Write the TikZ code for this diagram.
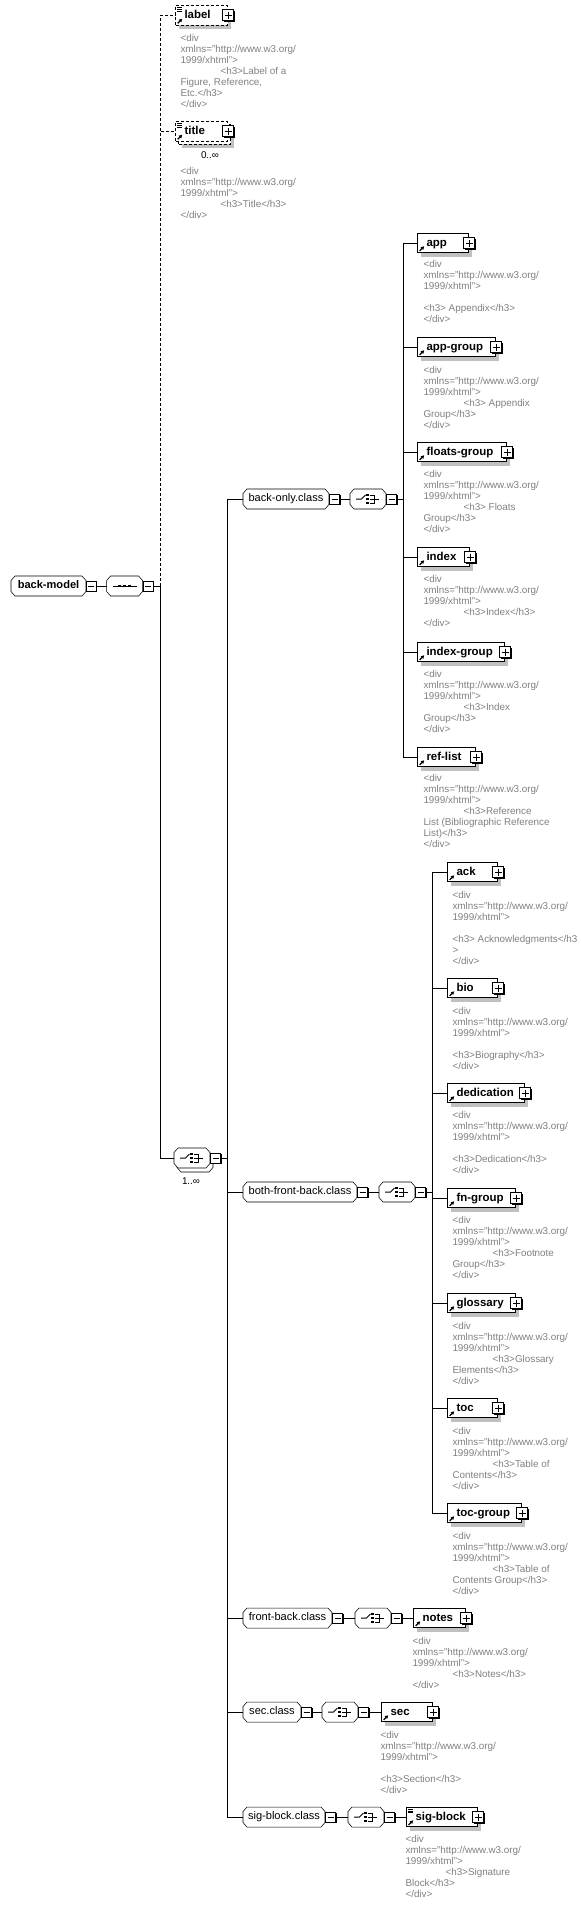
\documentclass[tikz,border=0pt]{standalone}
\usepackage{fontspec}
\setmainfont{Liberation Sans}
\usetikzlibrary{positioning, arrows.meta, shadows, backgrounds}

\definecolor{DocGray}{RGB}{128,128,128}
\definecolor{ShadowGray}{RGB}{192,192,192}

\newcommand{\elemfont}{\bfseries\fontsize{8.6}{10}\selectfont\exhyphenpenalty=10000 }
\newcommand{\clsfont}{\fontsize{8.3}{10}\selectfont}
\newcommand{\docfont}{\fontsize{7.4}{8.25}\selectfont}
\newcommand{\ind}{\hspace*{30pt}}
\newcommand{\divhead}{<div\\xmlns="http://www.w3.org/\\1999/xhtml">}

% small icons inside the boxes
\newcommand{\refarrow}{%
  \draw[solid, line width=0.9pt, -{Triangle[length=2.4pt, width=2.6pt]}]
    ([xshift=1.6pt, yshift=1.4pt]path picture bounding box.south west) -- ++(3.4pt,3.4pt);}
\newcommand{\docmark}{%
  \foreach \k in {0,1,2}
    \draw[solid, line width=0.5pt] ([xshift=0.8pt, yshift=-1.3pt-\k*1.4pt]path picture bounding box.north west) -- ++(4.2pt,0);}
\newcommand{\seqicon}[1]{%
  \begin{scope}[shift={(#1.center)}]
    \draw (-12,0) -- (12,0);
    \foreach \d in {-5,0,5}
      \fill (\d-1.4,-1.4) rectangle (\d+1.4,1.4);
  \end{scope}}
\newcommand{\choiceicon}[1]{%
  \begin{scope}[shift={(#1.center)}]
    \draw (-12,0) -- (-6.5,0) -- (-2.5,-4);
    \foreach \d in {-4,0,4}
      \fill (-1.6,\d-1.3) rectangle (1,\d+1.3);
    \draw (2.2,-4) -- (6,-4) -- (6,4) -- (2.2,4) (2.2,0) -- (11,0);
  \end{scope}}
% octagon outline round a named node
\newcommand{\octa}[1]{([yshift=4.1pt]#1.west) -- ([xshift=3pt]#1.north west) -- ([xshift=-3pt]#1.north east)
  -- ([yshift=4.1pt]#1.east) -- ([yshift=-4.1pt]#1.east) -- ([xshift=-3pt]#1.south east)
  -- ([xshift=3pt]#1.south west) -- ([yshift=-4.1pt]#1.west) -- cycle}

\tikzset{
  boxshadow/.style={drop shadow={shadow xshift=2.4pt, shadow yshift=-3pt, fill=ShadowGray, opacity=1}},
  optline/.style={dash pattern=on 2.25pt off 1.5pt},
  elembase/.style={draw, fill=white, rectangle, anchor=west, minimum height=14.6pt,
    inner ysep=0pt, inner xsep=6.75pt, text width={#1*0.75pt-13.5pt}, align=left,
    text height=6.4pt, text depth=1.8pt, font=\elemfont, path picture={\refarrow}},
  elem/.style={elembase=#1, boxshadow},
  docelem/.style={elem=#1, path picture={\refarrow\docmark}},
  optelem/.style={docelem=#1, optline},
  repbox/.style={draw, fill=white, rectangle, anchor=west, minimum height=14.6pt, inner sep=0pt, boxshadow},
  cls/.style={rectangle, anchor=west, minimum width={#1*0.75pt}, minimum height=14.25pt,
    inner sep=0pt, text height=6.2pt, text depth=1.8pt, font=\clsfont},
  comp/.style={rectangle, anchor=west, minimum width=26.25pt, minimum height=14.25pt, inner sep=0pt},
  minusbox/.style={draw, fill=white, rectangle, minimum size=7.5pt, inner sep=0pt,
    drop shadow={shadow xshift=0.9pt, shadow yshift=-0.9pt, fill=black, opacity=1},
    path picture={\draw ([xshift=1.5pt]path picture bounding box.west) -- ([xshift=-1.5pt]path picture bounding box.east);}},
  plusbox/.style={draw, fill=white, rectangle, minimum size=8.25pt, inner sep=0pt,
    drop shadow={shadow xshift=0.9pt, shadow yshift=-0.9pt, fill=black, opacity=1},
    path picture={\draw ([xshift=1.5pt]path picture bounding box.west) -- ([xshift=-1.5pt]path picture bounding box.east)
      ([yshift=-1.5pt]path picture bounding box.north) -- ([yshift=1.5pt]path picture bounding box.south);}},
  doc/.style={anchor=north west, inner sep=0pt, align=left, font=\docfont, text=DocGray},
  card/.style={inner sep=0pt, font=\docfont}
}

\begin{document}
\begin{tikzpicture}[x=0.75pt, y=-0.75pt, line width=0.75pt]
\useasboundingbox (0,0) rectangle (581,1905);

% root with its sequence
\node[cls=74, font=\clsfont\bfseries] (bm) at (11,586) {back-model};
\node[minusbox, right=-0.3pt of bm] (bm-m) {};
\node[comp, right=7.5pt of bm-m] (seq) {};
\node[minusbox, right=0pt of seq] (seq-m) {};
\coordinate (bus0) at (160,586);
\draw (bm-m.east) -- (seq.west);
\draw (seq-m.east) -- (bus0);

% optional label and title
\node[optelem=52] (label) at (175,15.5) {label};
\node[plusbox] (label-p) at (label.east) {};
\node[repbox, optline, minimum width=39pt] (title-rep) at (178,134.5) {};
\node[elembase=52, path picture={\refarrow\docmark}, optline] (title) at (175,131.5) {title};
\node[plusbox] (title-p) at (title.east) {};
\node[card] (title-n) at (210,155) {0..∞};
\draw[optline] (bus0) |- (label.west);
\draw[optline] (bus0) |- (title.west);

\node[doc] (label-doc) at (180,33.4) {\divhead\\\ind<h3>Label of a\\Figure, Reference,\\Etc.</h3>\\</div>};
\node[doc] (title-doc) at (180,166.4) {\divhead\\\ind<h3>Title</h3>\\</div>};

% repeated choice
\node[comp] (ch-rep) at (177,1162) {};
\node[comp] (ch) at (174,1158) {};
\node[minusbox, right=0pt of ch] (ch-m) {};
\node[card] (ch-n) at (191,1181) {1..∞};
\draw (bus0) |- (ch.west);
\coordinate (bus1) at (227,1158);
\draw (ch-m.east) -- (bus1);

% back-only.class
\node[cls=85] (bo) at (243,499) {back-only.class};
\node[minusbox, right=0pt of bo] (bo-m) {};
\node[comp, right=7.5pt of bo-m] (bo-c) {};
\node[minusbox, right=0pt of bo-c] (bo-cm) {};
\coordinate (bus2) at (403,499);
\draw (bo-m.east) -- (bo-c.west);
\draw (bo-cm.east) -- (bus2);

\foreach \n/\w/\y in {app/51/243, app-group/78/347, floats-group/89/452,
                      index/52/557, index-group/87/652, ref-list/58/757} {
  \node[elem=\w] (\n) at (417,\y) {\n};
  \node[plusbox] (\n-p) at (\n.east) {};
  \draw (bus2) |- (\n.west);
}
\node[doc] (app-doc) at (423,259.4) {\divhead\\[8.25pt]<h3> Appendix</h3>\\</div>};
\node[doc] (app-group-doc) at (423,365.4) {\divhead\\\ind<h3> Appendix\\Group</h3>\\</div>};
\node[doc] (floats-group-doc) at (423,469.4) {\divhead\\\ind<h3> Floats\\Group</h3>\\</div>};
\node[doc] (index-doc) at (423,574.4) {\divhead\\\ind<h3>Index</h3>\\</div>};
\node[doc] (index-group-doc) at (423,669.4) {\divhead\\\ind<h3>Index\\Group</h3>\\</div>};
\node[doc] (ref-list-doc) at (423,773.4) {\divhead\\\ind<h3>Reference\\List (Bibliographic Reference\\List)</h3>\\</div>};

% both-front-back.class
\node[cls=113] (bfb) at (243,1192) {both-front-back.class};
\node[minusbox, right=0pt of bfb] (bfb-m) {};
\node[comp, right=8.25pt of bfb-m] (bfb-c) {};
\node[minusbox, right=0pt of bfb-c] (bfb-cm) {};
\coordinate (bus3) at (432,1192);
\draw (bfb-m.east) -- (bfb-c.west);
\draw (bfb-cm.east) -- (bus3);

\foreach \n/\w/\y in {ack/50/872, bio/50/988, dedication/77/1093, fn-group/68/1198,
                      glossary/68/1303, toc/50/1408, toc-group/74/1513} {
  \node[elem=\w] (\n) at (447,\y) {\n};
  \node[plusbox] (\n-p) at (\n.east) {};
  \draw (bus3) |- (\n.west);
}
\node[doc] (ack-doc) at (452,890.4) {\divhead\\[8.25pt]<h3> Acknowledgments</h3\\>\\</div>};
\node[doc] (bio-doc) at (452,1006.4) {\divhead\\[8.25pt]<h3>Biography</h3>\\</div>};
\node[doc] (dedication-doc) at (452,1110.4) {\divhead\\[8.25pt]<h3>Dedication</h3>\\</div>};
\node[doc] (fn-group-doc) at (452,1215.4) {\divhead\\\ind<h3>Footnote\\Group</h3>\\</div>};
\node[doc] (glossary-doc) at (452,1321.4) {\divhead\\\ind<h3>Glossary\\Elements</h3>\\</div>};
\node[doc] (toc-doc) at (452,1426.4) {\divhead\\\ind<h3>Table of\\Contents</h3>\\</div>};
\node[doc] (toc-group-doc) at (452,1531.4) {\divhead\\\ind<h3>Table of\\Contents Group</h3>\\</div>};

% front-back.class
\node[cls=88] (fb) at (243,1618) {front-back.class};
\node[minusbox, right=0pt of fb] (fb-m) {};
\node[comp, right=9pt of fb-m] (fb-c) {};
\node[minusbox, right=0pt of fb-c] (fb-cm) {};
\node[elem=52, right=8.25pt of fb-cm] (notes) {notes};
\node[plusbox] (notes-p) at (notes.east) {};
\draw (fb-m.east) -- (fb-c.west);
\draw (fb-cm.east) -- (notes.west);
\node[doc] (notes-doc) at (412,1636.4) {\divhead\\\ind<h3>Notes</h3>\\</div>};

% sec.class
\node[cls=57] (sc) at (243,1712) {sec.class};
\node[minusbox, right=0pt of sc] (sc-m) {};
\node[comp, right=7.5pt of sc-m] (sc-c) {};
\node[minusbox, right=0pt of sc-c] (sc-cm) {};
\node[elem=51, right=9pt of sc-cm] (sec) {sec};
\node[plusbox] (sec-p) at (sec.east) {};
\draw (sc-m.east) -- (sc-c.west);
\draw (sc-cm.east) -- (sec.west);
\node[doc] (sec-doc) at (380,1730.4) {\divhead\\[8.25pt]<h3>Section</h3>\\</div>};

% sig-block.class
\node[cls=81] (sb) at (243,1817) {sig-block.class};
\node[minusbox, right=0pt of sb] (sb-m) {};
\node[comp, right=9pt of sb-m] (sb-c) {};
\node[minusbox, right=0pt of sb-c] (sb-cm) {};
\node[docelem=71, right=8.25pt of sb-cm] (sig-block) {sig-block};
\node[plusbox] (sig-block-p) at (sig-block.east) {};
\draw (sb-m.east) -- (sb-c.west);
\draw (sb-cm.east) -- (sig-block.west);
\node[doc] (sig-block-doc) at (405,1834.4) {\divhead\\\ind<h3>Signature\\Block</h3>\\</div>};

\foreach \n in {bo, bfb, fb, sc, sb}
  \draw (bus1) |- (\n.west);

% compositor icons
\seqicon{seq}
\foreach \n in {ch, bo-c, bfb-c, fb-c, sc-c, sb-c} {\choiceicon{\n}}

% octagons behind classes and compositors
\begin{pgfonlayer}{background}
  \fill[ShadowGray, shift={(2.4pt,-3pt)}] \octa{ch-rep};
  \filldraw[fill=white] \octa{ch-rep};
  \filldraw[fill=white] \octa{ch};
  \foreach \n in {bm, seq, bo, bo-c, bfb, bfb-c, fb, fb-c, sc, sc-c, sb, sb-c} {
    \fill[ShadowGray, shift={(2.4pt,-3pt)}] \octa{\n};
    \filldraw[fill=white] \octa{\n};
  }
\end{pgfonlayer}
\end{tikzpicture}
\end{document}
